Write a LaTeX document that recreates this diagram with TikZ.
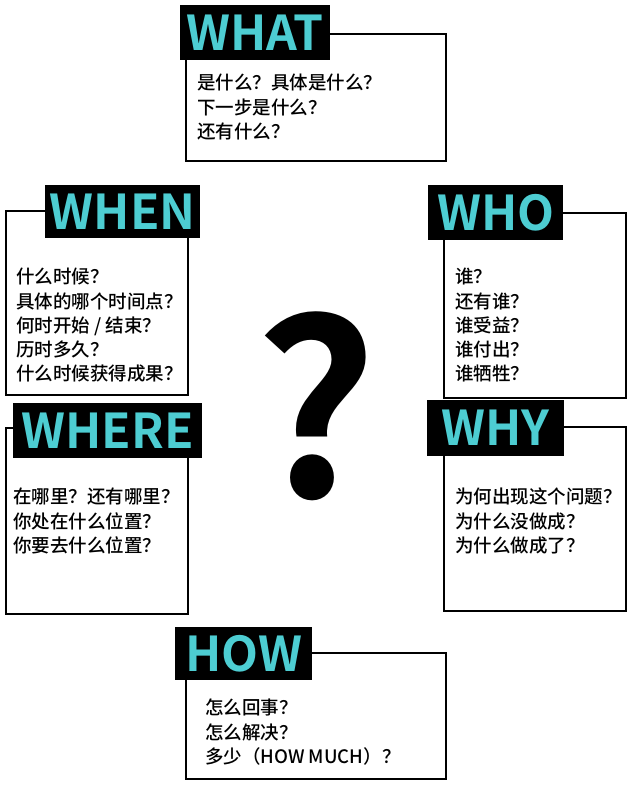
\documentclass[tikz,border=0pt]{standalone}
\usepackage{fontspec}
\usepackage{xcolor}
\newfontfamily\cjk{Noto Sans CJK SC Medium}
\newfontfamily\cjkbold{Noto Sans CJK SC Bold}
\definecolor{tagcyan}{RGB}{77,205,210}

\begin{document}
\begin{tikzpicture}[
  x=1pt, y=-1pt,
  frame/.style={draw, line width=1.8pt, anchor=north west, inner sep=0pt},
  tag/.style={fill=black, text=tagcyan, anchor=north west, inner sep=0pt, font=\cjkbold\fontsize{48}{48}\selectfont},
  q/.style={anchor=north west, align=left, inner sep=0pt, text=black, font=\cjk\fontsize{18.5}{24.3}\selectfont}
]
  \fill[white] (0,0) rectangle (642,799);
  \useasboundingbox (0,0) rectangle (642,799);

  % frames
  \node[frame, minimum width=260, minimum height=127] (fwhat) at (185,33) {};
  \node[frame, minimum width=182, minimum height=184] (fwhen) at (5,210) {};
  \node[frame, minimum width=182, minimum height=185] (fwho) at (443,212) {};
  \node[frame, minimum width=182, minimum height=186] (fwhere) at (5,427) {};
  \node[frame, minimum width=182, minimum height=184] (fwhy) at (443,426) {};
  \node[frame, minimum width=260, minimum height=126] (fhow) at (185,652) {};

  % black tags
  \node[tag, minimum width=150, minimum height=55] (what) at (180,5) {WHAT};
  \node[tag, minimum width=155, minimum height=53] (when) at (45,185) {WHEN};
  \node[tag, minimum width=135, minimum height=55] (who) at (428,185) {WHO};
  \node[tag, minimum width=189, minimum height=55] (where) at (13,403) {WHERE};
  \node[tag, minimum width=137, minimum height=56] (why) at (427,400) {WHY};
  \node[tag, minimum width=137, minimum height=53] (how) at (175,627) {HOW};

  % questions
  \node[q] (twhat) at (197,74) {是什么？具体是什么？\\下一步是什么？\\还有什么？};
  \node[q] (twhen) at (16,268) {什么时候？\\具体的哪个时间点？\\何时开始 / 结束？\\历时多久？\\什么时候获得成果？};
  \node[q] (twho) at (455,268) {谁？\\还有谁？\\谁受益？\\谁付出？\\谁牺牲？};
  \node[q] (twhere) at (13,488) {在哪里？还有哪里？\\你处在什么位置？\\你要去什么位置？};
  \node[q] (twhy) at (455,488) {为何出现这个问题？\\为什么没做成？\\为什么做成了？};
  \node[q] (thow) at (205,699) {怎么回事？\\怎么解决？\\多少（HOW MUCH）？};

  \node[font=\cjkbold\fontsize{240}{240}\selectfont, inner sep=0pt] (qm) at (316,406) {?};
\end{tikzpicture}
\end{document}
